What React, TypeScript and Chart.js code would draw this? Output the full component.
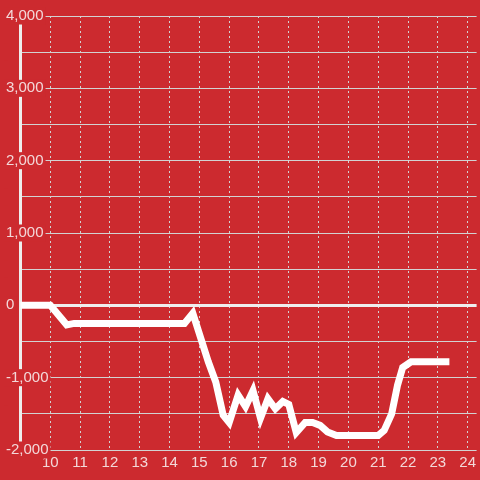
import React, { useEffect, useRef } from 'react';
import { Chart, registerables } from 'chart.js';

Chart.register(...registerables);

// Hours of the day (x) and running balance (y)
const times = [
  9, 10, 10.55, 10.8, 14.5, 14.78, 15.3, 15.55, 15.8, 16.0,
  16.3, 16.55, 16.8, 17.05, 17.3, 17.55, 17.8, 18.0, 18.25, 18.55,
  18.8, 19.05, 19.3, 19.6, 21.0, 21.2, 21.45, 21.65, 21.82, 22.1, 23.27,
];
const values = [
  0, 0, -270, -250, -250, -110, -780, -1060, -1520, -1620,
  -1240, -1400, -1180, -1560, -1290, -1430, -1330, -1370, -1760, -1620,
  -1620, -1660, -1750, -1800, -1800, -1730, -1500, -1100, -860, -780, -780,
];
const xMin = 9;
const xMax = 24.3;
const yMin = -2000;
const yMax = 4000;
const yStep = 500;
const yLabelStep = 1000;

const BG = 'rgb(204,42,47)';
const LABEL = '#f3d8d9';
const GRID = '#d2d2d2';
const ZERO = '#eeeeee';
const FONT = 'Liberation Sans, Arial, sans-serif';

export default function App() {
  const ref = useRef<HTMLCanvasElement | null>(null);

  useEffect(() => {
    if (!ref.current) return;
    const chart = new Chart(ref.current, {
      type: 'line',
      data: {
        datasets: [
          {
            data: times.map((t, i) => ({ x: t, y: values[i] })),
            borderColor: '#ffffff',
            borderWidth: 7,
            pointRadius: 0,
            tension: 0,
            borderCapStyle: 'square',
            borderJoinStyle: 'miter',
            fill: false,
          },
        ],
      },
      options: {
        animation: false,
        responsive: false,
        events: [],
        layout: { padding: { left: 6, top: 16, right: 0, bottom: 4 } },
        plugins: { legend: { display: false }, tooltip: { enabled: false } },
        scales: {
          x: {
            type: 'linear',
            min: xMin,
            max: xMax,
            border: { display: false, dash: [2, 3] },
            grid: {
              drawTicks: false,
              color: (ctx: any) => (ctx.tick && ctx.tick.value === xMin ? 'rgba(0,0,0,0)' : GRID),
              lineWidth: 1,
            },
            ticks: {
              stepSize: 1,
              includeBounds: false,
              autoSkip: false,
              maxRotation: 0,
              padding: 4,
              color: LABEL,
              font: { family: FONT, size: 15 },
              callback: (v: any) => (v === xMin ? '' : String(v)),
            },
          },
          y: {
            type: 'linear',
            min: yMin,
            max: yMax,
            afterFit: (s: any) => {
              s.width = 14.5;
            },
            border: { display: true, color: ZERO, width: 3, dash: [] },
            grid: {
              drawTicks: false,
              color: (ctx: any) => (ctx.tick && ctx.tick.value === 0 ? ZERO : GRID),
              lineWidth: (ctx: any) => (ctx.tick && ctx.tick.value === 0 ? 3 : 1),
            },
            ticks: {
              stepSize: yStep,
              autoSkip: false,
              mirror: true,
              crossAlign: 'near',
              padding: -14.5,
              color: LABEL,
              font: { family: FONT, size: 15, lineHeight: 1 },
              showLabelBackdrop: true,
              backdropColor: BG,
              backdropPadding: { top: 1, bottom: 1, left: 2, right: 2 },
              callback: (v: any) =>
                v % yLabelStep === 0 ? Number(v).toLocaleString('en-US') : '',
            },
          },
        },
      },
    } as any);
    return () => chart.destroy();
  }, []);

  return (
    <div style={{ position: 'fixed', left: 0, top: 0, width: 480, height: 480, background: BG }}>
      <canvas ref={ref} width={480} height={480} style={{ display: 'block' }} />
    </div>
  );
}
